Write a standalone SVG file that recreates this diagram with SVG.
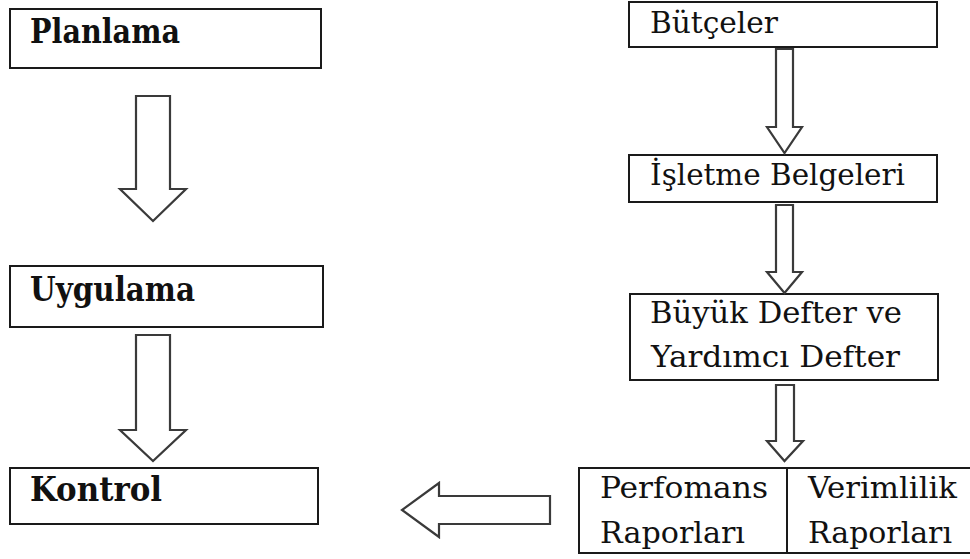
<svg xmlns="http://www.w3.org/2000/svg" width="970" height="559" viewBox="0 0 970 559">
  <style>
    .box { fill: #ffffff; stroke: #1a1a1a; stroke-width: 2; }
    .arrow { fill: #ffffff; stroke: #3a3a3a; stroke-width: 2.2; stroke-linejoin: miter; }
    text { font-family: 'DejaVu Serif Condensed', 'DejaVu Serif', serif; font-size: 30px; fill: #111111; }
    .bold { font-weight: bold; font-size: 33px; }
  </style>
  <rect width="970" height="559" fill="#ffffff"/>

  <!-- left column: management cycle -->
  <g id="planlama">
    <rect class="box" x="10" y="9" width="311" height="59"/>
    <text class="bold" x="30" y="43" textLength="150" lengthAdjust="spacingAndGlyphs">Planlama</text>
  </g>
  <g id="uygulama">
    <rect class="box" x="10" y="266" width="313" height="61"/>
    <text class="bold" x="30" y="301" textLength="165" lengthAdjust="spacingAndGlyphs">Uygulama</text>
  </g>
  <g id="kontrol">
    <rect class="box" x="10" y="468" width="308" height="56"/>
    <text class="bold" x="30" y="501" textLength="132" lengthAdjust="spacingAndGlyphs">Kontrol</text>
  </g>

  <!-- right column: accounting documents -->
  <g id="butceler">
    <rect class="box" x="629" y="2" width="308" height="45"/>
    <text x="650" y="33" textLength="128" lengthAdjust="spacingAndGlyphs">Bütçeler</text>
  </g>
  <g id="isletme-belgeleri">
    <rect class="box" x="629" y="155" width="308" height="47"/>
    <text x="650" y="185" textLength="255" lengthAdjust="spacingAndGlyphs">İşletme Belgeleri</text>
  </g>
  <g id="defterler">
    <rect class="box" x="630" y="294" width="308" height="86"/>
    <text x="650" y="323" textLength="252" lengthAdjust="spacingAndGlyphs">Büyük Defter ve</text>
    <text x="651" y="367" textLength="249" lengthAdjust="spacingAndGlyphs">Yardımcı Defter</text>
  </g>
  <g id="raporlar">
    <rect class="box" x="579" y="468" width="400" height="85"/>
    <line x1="787" y1="468" x2="787" y2="553" stroke="#1a1a1a" stroke-width="2"/>
    <text x="600" y="498" textLength="168" lengthAdjust="spacingAndGlyphs">Perfomans</text>
    <text x="600" y="543" textLength="145" lengthAdjust="spacingAndGlyphs">Raporları</text>
    <text x="808" y="498" textLength="149" lengthAdjust="spacingAndGlyphs">Verimlilik</text>
    <text x="808" y="543" textLength="144" lengthAdjust="spacingAndGlyphs">Raporları</text>
  </g>

  <!-- block arrows -->
  <g id="connectors">
    <polygon class="arrow" points="136,96 170,96 170,189 186,189 153,221 120,189 136,189"/>
    <polygon class="arrow" points="136,335 170,335 170,430 186,430 153,461 120,430 136,430"/>
    <polygon class="arrow" points="776,49 793,49 793,127 802,127 784.5,153 767,127 776,127"/>
    <polygon class="arrow" points="776,205 793,205 793,272 802,272 784.5,293 767,272 776,272"/>
    <polygon class="arrow" points="776,385 794,385 794,441 803,441 784.5,461 767,441 776,441"/>
    <polygon class="arrow" points="550,496 550,524 439,524 439,537 402,510 439,483 439,496"/>
  </g>
</svg>
